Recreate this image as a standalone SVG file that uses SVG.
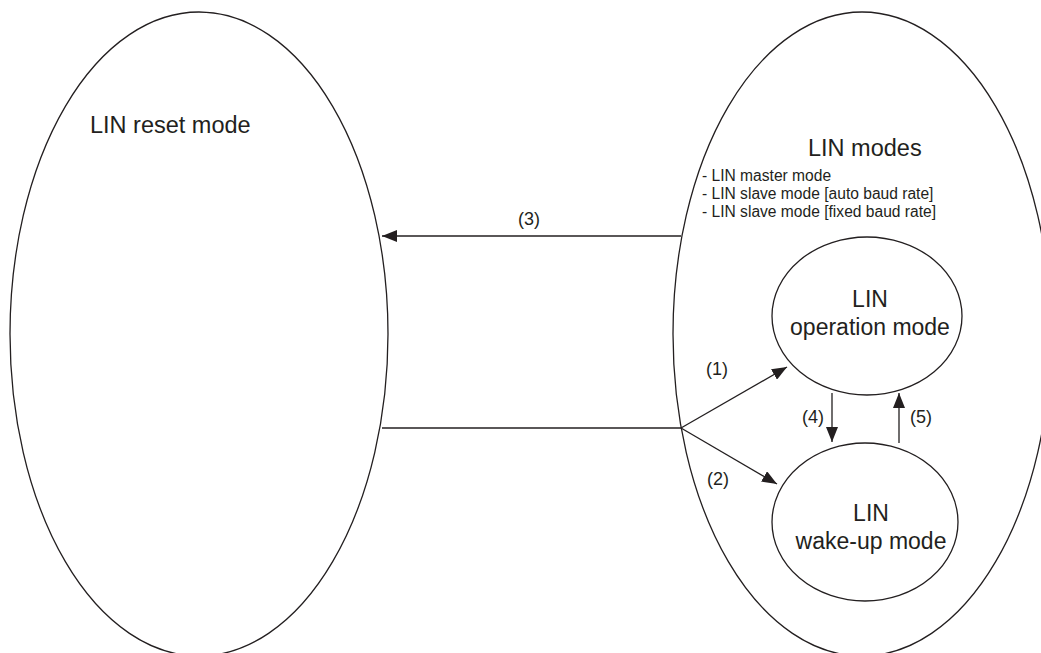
<svg xmlns="http://www.w3.org/2000/svg" width="1041" height="653" viewBox="0 0 1041 653">
<style>
.shape{fill:none;stroke:#231f20;stroke-width:1.3}
.conn{fill:none;stroke:#231f20;stroke-width:1.3}
text{font-family:"Liberation Sans",Arial,sans-serif;fill:#231f20}
.big{font-size:23.5px}
.mid{font-size:23px;text-anchor:middle}
.lbl{font-size:18px;text-anchor:middle}
.small{font-size:15.6px}
</style>
<defs>
<marker id="ah" markerUnits="userSpaceOnUse" markerWidth="16" markerHeight="12" refX="15" refY="6" orient="auto">
<path d="M0,0 L15,6 L0,12 Z" fill="#231f20"/>
</marker>
</defs>
<rect width="1041" height="653" fill="#ffffff"/>
<g id="reset">
<ellipse class="shape" cx="199" cy="334" rx="189" ry="322"/>
<text class="big" x="90" y="133">LIN reset mode</text>
</g>
<g id="linmodes">
<ellipse class="shape" cx="862" cy="334" rx="189" ry="322"/>
<text class="big" x="808" y="156">LIN modes</text>
<text class="small" x="702" y="181">- LIN master mode</text>
<text class="small" x="702" y="199">- LIN slave mode [auto baud rate]</text>
<text class="small" x="702" y="217">- LIN slave mode [fixed baud rate]</text>
</g>
<g id="operation">
<ellipse class="shape" cx="867" cy="316" rx="95" ry="79"/>
<text class="mid" x="870" y="307">LIN</text>
<text class="mid" x="870" y="335">operation mode</text>
</g>
<g id="wakeup">
<ellipse class="shape" cx="865" cy="522" rx="93" ry="79"/>
<text class="mid" x="871" y="521">LIN</text>
<text class="mid" x="871" y="549">wake-up mode</text>
</g>
<g id="connectors">
<line class="conn" x1="681" y1="236" x2="382" y2="236" marker-end="url(#ah)"/>
<line class="conn" x1="382" y1="428" x2="681" y2="428"/>
<line class="conn" x1="681" y1="428" x2="787" y2="367" marker-end="url(#ah)"/>
<line class="conn" x1="681" y1="428" x2="777" y2="484" marker-end="url(#ah)"/>
<line class="conn" x1="832" y1="393" x2="832" y2="442" marker-end="url(#ah)"/>
<line class="conn" x1="899" y1="443" x2="899" y2="393" marker-end="url(#ah)"/>
<text class="lbl" x="529" y="225">(3)</text>
<text class="lbl" x="717" y="375">(1)</text>
<text class="lbl" x="718" y="485">(2)</text>
<text class="lbl" x="813" y="423">(4)</text>
<text class="lbl" x="921" y="423">(5)</text>
</g>
</svg>
